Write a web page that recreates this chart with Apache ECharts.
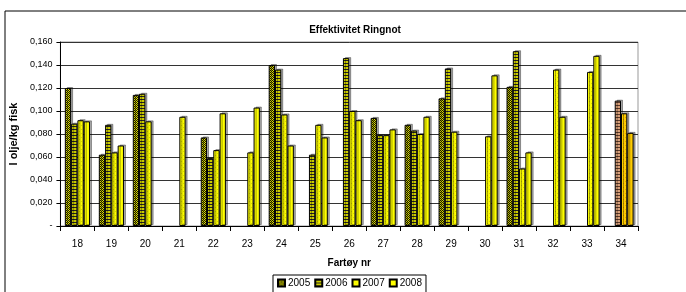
<!DOCTYPE html>
<html><head><meta charset="utf-8">
<script src="https://cdn.jsdelivr.net/npm/echarts@6/dist/echarts.min.js"></script>
<style>html,body{margin:0;padding:0;background:#fff}#c{width:686px;height:292px}</style>
</head><body><div id="c"></div>
<script>
var categories = ['18','19','20','21','22','23','24','25','26','27','28','29','30','31','32','33','34'];
var seriesNames = ['2005','2006','2007','2008'];
var v2005 = [0.120,0.062,0.114,null,0.077,null,0.140,null,null,0.094,0.088,0.111,null,0.121,null,null,null];
var v2006 = [0.089,0.088,0.115,null,0.059,null,0.136,0.062,0.146,0.079,0.083,0.137,null,0.152,null,null,0.109];
var v2007 = [0.092,0.064,0.091,0.095,0.066,0.064,0.097,0.088,0.100,0.079,0.080,0.082,0.078,0.050,0.136,0.134,0.098];
var v2008 = [0.091,0.070,null,null,0.098,0.103,0.070,0.077,0.092,0.084,0.095,null,0.131,0.064,0.095,0.148,0.081];
var yTicks = [0,0.02,0.04,0.06,0.08,0.1,0.12,0.14,0.16];

function pat(w,h,draw){var c=document.createElement('canvas');c.width=w;c.height=h;var g=c.getContext('2d');draw(g);return {image:c,repeat:'repeat'};}
var p2005 = pat(4,4,function(g){g.fillStyle='#e6e600';g.fillRect(0,0,4,4);g.fillStyle='#1a1a00';
  [[0,0],[1,1],[2,2],[3,3],[2,0],[0,2],[3,1],[1,3]].forEach(function(p){g.fillRect(p[0],p[1],1,1);});
  g.fillStyle='#b0b000';g.fillRect(1,0,1,1);g.fillRect(3,2,1,1);});
var p2006 = pat(4,3,function(g){g.fillStyle='#cccc00';g.fillRect(0,0,4,3);g.fillStyle='#222';g.fillRect(0,0,4,1);});
var p2007 = pat(4,4,function(g){g.fillStyle='#ffff00';g.fillRect(0,0,4,4);g.fillStyle='#d8d800';g.fillRect(1,1,1,1);g.fillRect(3,3,1,1);});
var p2008 = '#ffff00';
var p34a = pat(4,3,function(g){g.fillStyle='#d9a07a';g.fillRect(0,0,4,3);g.fillStyle='#5a3a2a';g.fillRect(0,0,4,1);});
var p34b = pat(4,4,function(g){g.fillStyle='#ffcc00';g.fillRect(0,0,4,4);g.fillStyle='#e0a800';g.fillRect(1,1,1,1);g.fillRect(3,3,1,1);});
var p34c = '#ffcc00';
var fills = [p2005,p2006,p2007,p2008];
var special = {'1':p34a,'2':p34b,'3':p34c};
var vals = [v2005,v2006,v2007,v2008];

var series = seriesNames.map(function(n,si){
  return {
    name:n, type:'bar', barGap:'0%', barCategoryGap:'26%',
    itemStyle:{color:fills[si],borderColor:'#000',borderWidth:1,shadowColor:'rgba(0,0,0,0.35)',shadowOffsetX:2,shadowOffsetY:-1,shadowBlur:0},
    data: vals[si].map(function(v,i){
      if(i===16 && special[si]) return {value:v,itemStyle:{color:special[si]}};
      return v;
    })
  };
});

var chart = echarts.init(document.getElementById('c'));
chart.setOption({
  animation:false,
  graphic:[{type:'rect',shape:{x:5,y:11,width:720,height:320},style:{fill:'none',stroke:'#000',lineWidth:1},z:-1}],
  title:{text:'Effektivitet Ringnot',left:350,top:20,textAlign:'center',textStyle:{fontFamily:'Liberation Sans',fontSize:10,fontWeight:'bold',color:'#000'}},
  legend:{data:seriesNames,left:273,top:275,itemWidth:7,itemHeight:7,itemGap:4,padding:[3,4,6,4],borderColor:'#000',borderWidth:1,
    textStyle:{fontFamily:'Liberation Sans',fontSize:10,color:'#000',padding:[0,0,0,-2]},icon:'rect'},
  grid:{left:57,right:48,top:42,bottom:66,show:true,borderColor:'#999',borderWidth:1},
  xAxis:{type:'category',data:categories,name:'Fartøy nr',nameLocation:'middle',nameGap:32,
    nameTextStyle:{fontFamily:'Liberation Sans',fontSize:10,fontWeight:'bold',color:'#000'},
    axisLine:{lineStyle:{color:'#000'}},axisTick:{show:true,length:5,lineStyle:{color:'#000'}},
    axisLabel:{fontFamily:'Liberation Sans',fontSize:10,color:'#000',margin:13}},
  yAxis:{type:'value',min:0,max:0.16,interval:0.02,name:'l olje/kg fisk',nameLocation:'middle',nameGap:40,
    nameTextStyle:{fontFamily:'Liberation Sans',fontSize:11,fontWeight:'bold',color:'#000'},
    axisLine:{show:true,lineStyle:{color:'#000'}},axisTick:{show:true,length:4,lineStyle:{color:'#000'}},
    splitLine:{lineStyle:{color:'#333',width:1}},
    axisLabel:{fontFamily:'Liberation Sans',fontSize:9,color:'#000',margin:8,
      formatter:function(v){return v===0?'-':v.toFixed(3).replace('.',',');}}},
  series:series
});
</script></body></html>
